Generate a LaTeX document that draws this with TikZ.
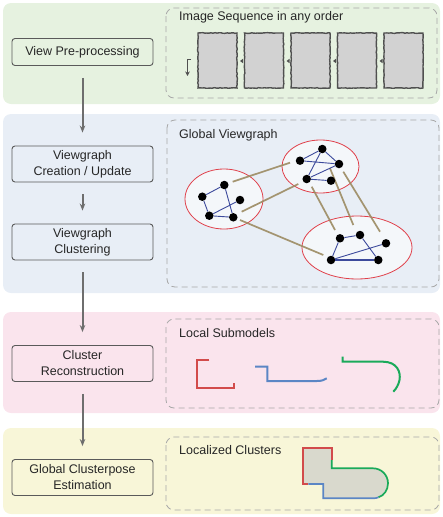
\documentclass[tikz,border=0pt]{standalone}
\usepackage{fontspec}
\setmainfont{Liberation Sans}
\usetikzlibrary{arrows.meta,decorations.pathmorphing}

\definecolor{greenbg}{HTML}{E6F2E0}
\definecolor{bluebg}{HTML}{E8EEF6}
\definecolor{pinkbg}{HTML}{FAE4ED}
\definecolor{yellowbg}{HTML}{F8F6D8}
\definecolor{boxline}{HTML}{5A5A5A}
\definecolor{flowgray}{HTML}{6E6E6E}
\definecolor{dashgray}{HTML}{A8A8A8}
\definecolor{shotfill}{HTML}{D2D2D2}
\definecolor{shotline}{HTML}{505050}
\definecolor{clusred}{HTML}{E0404A}
\definecolor{matchtan}{HTML}{9C8B62}
\definecolor{linkblue}{HTML}{3C4A9C}
\definecolor{partred}{HTML}{D24B4B}
\definecolor{partblue}{HTML}{5B86C5}
\definecolor{partgreen}{HTML}{1AAA5A}
\definecolor{mergefill}{HTML}{D9D9CD}

\begin{document}
\begin{tikzpicture}[x=1pt,y=-1pt,
	stage/.style={draw=boxline,rounded corners=3pt,line width=0.9pt,minimum width=141pt,minimum height=36pt,align=center,text=black!85,font=\fontsize{12.5}{16}\selectfont},
	title/.style={anchor=west,inner sep=0pt,text=black!85,font=\fontsize{12.5}{15}\selectfont},
	flow/.style={draw=flowgray,line width=2pt,-{Stealth[length=7pt,width=5.5pt]},shorten <=12pt,shorten >=13pt},
	dashbox/.style={draw=dashgray,dash pattern=on 6pt off 4pt,rounded corners=8pt,line width=0.8pt},
	shot/.style={fill=shotfill,draw=shotline,line width=1.4pt,decorate,decoration={random steps,segment length=2pt,amplitude=0.35pt}},
	view/.style={circle,fill=black,inner sep=0pt,minimum size=8.5pt},
	clus/.style={draw=clusred,fill=white,fill opacity=0.55,line width=0.8pt},
	match/.style={draw=matchtan,line width=1.7pt,opacity=0.9},
	link/.style={draw=linkblue,line width=0.9pt},
	part/.style={line width=2pt,line join=miter}]
	\useasboundingbox (0,0) rectangle (443,517);

	% stage backgrounds
	\fill[greenbg,rounded corners=8pt] (3,3) rectangle (440,104);
	\fill[bluebg,rounded corners=8pt] (3,114) rectangle (440,293);
	\fill[pinkbg,rounded corners=8pt] (3,312) rectangle (440,413);
	\fill[yellowbg,rounded corners=8pt] (3,428) rectangle (440,514);

	% pipeline
	\node[stage,fill=greenbg,minimum height=27pt] (pre) at (82.5,52) {View Pre-processing};
	\node[stage,fill=bluebg] (create) at (82.5,164) {Viewgraph\\Creation / Update};
	\node[stage,fill=bluebg] (clustering) at (82.5,242) {Viewgraph\\Clustering};
	\node[stage,fill=pinkbg] (recon) at (82.5,363.5) {Cluster\\Reconstruction};
	\node[stage,fill=yellowbg] (pose) at (82.5,477.5) {Global Clusterpose\\Estimation};
	\draw[flow] (pre) -- (create);
	\draw[flow] (create) -- (clustering);
	\draw[flow] (clustering) -- (recon);
	\draw[flow] (recon) -- (pose);

	% image sequence
	\draw[dashbox] (166,8) rectangle (437,98);
	\node[title] (seqtitle) at (179,17) {Image Sequence in any order};
	\foreach \i in {0,...,4}
		\draw[shot] ({198+46.5*\i},33) rectangle ++(39,55);
	\foreach \i in {0,...,3}
		\fill[shotline] ({240+46.5*\i},61) -- ++(3,-2.2) -- ++(0,4.4) -- cycle;
	\draw[shotline,line width=1.5pt,-{Stealth[length=4.5pt,width=4.5pt]}] (191,59.5) -- (187.5,59.5) -- (187.5,76);

	% viewgraph
	\draw[dashbox] (167,120) rectangle (439,287);
	\node[title] (graphtitle) at (179,135) {Global Viewgraph};
	\draw[clus] (224,199) ellipse [x radius=39pt,y radius=30pt];
	\draw[clus] (320.5,166.5) ellipse [x radius=38.5pt,y radius=26.5pt];
	\draw[clus] (357,247.5) ellipse [x radius=55pt,y radius=31.5pt];
	\draw[match] (232.7,181.7) -- (290,162.7);
	\draw[match] (241.7,211.7) -- (298.3,184);
	\draw[match] (240,220) -- (323.3,255);
	\draw[match] (311.7,186.7) -- (335,230);
	\draw[match] (330,168.3) -- (353.3,225);
	\draw[match] (343.3,171.7) -- (380,231.7);
	\node[view] (l1) at (224.3,185) {};
	\node[view] (l2) at (202.3,196.7) {};
	\node[view] (l3) at (240,200) {};
	\node[view] (l4) at (209.3,215.7) {};
	\node[view] (l5) at (233.3,217.3) {};
	\node[view] (t1) at (322.3,149) {};
	\node[view] (t2) at (300,160.7) {};
	\node[view] (t3) at (339,164) {};
	\node[view] (t4) at (306.7,179) {};
	\node[view] (t5) at (331,180.7) {};
	\node[view] (b1) at (340,238.3) {};
	\node[view] (b2) at (360,235) {};
	\node[view] (b3) at (386,243.3) {};
	\node[view] (b4) at (331,260) {};
	\node[view] (b5) at (378.3,260) {};
	\draw[link] (l2) -- (l1) (l2) -- (l4) (l1) -- (l5) (l4) -- (l5) (l4) -- (l3);
	\draw[link] (t2) -- (t1) (t1) -- (t3) (t2) -- (t3) (t1) -- (t4) (t3) -- (t4) (t4) -- (t5);
	\draw[link] (b1) -- (b2) (b1) -- (b4) (b4) -- (b3) (b2) -- (b5);
	\draw[link,line width=1.5pt] (b4) -- (b5);

	% local submodels
	\draw[dashbox] (166,319) rectangle (439,408);
	\node[title] (subtitle) at (179,333) {Local Submodels};
	\draw[part,partred] (209.3,360) -- (196.7,360) -- (196.7,388.3) -- (234,388.3) -- (234,383.3);
	\draw[part,partblue] (255,366.7) -- (267.3,366.7) -- (267.3,381) -- (316.7,381) .. controls (322,381) and (324,380) .. (326.7,378.3);
	\draw[part,partgreen] (342.7,356.7) -- (342.7,361.7) -- (383,361.7) .. controls (397,361.7) and (401,372) .. (399.5,380) .. controls (398.5,385) and (396,389) .. (393.3,391.7);

	% localized clusters
	\draw[dashbox] (166,437) rectangle (439,510);
	\node[title] (loctitle) at (179,450) {Localized Clusters};
	\fill[mergefill] (303.3,448.3) -- (331.7,448.3) -- (331.7,468.3) -- (373,468.3) .. controls (381.3,468.3) and (388,475) .. (388,483.3) .. controls (388,491.6) and (381.3,498.3) .. (373,498.3) -- (323.3,498.3) -- (323.3,484) -- (303.3,484) -- cycle;
	\draw[part,partred,line width=1.7pt] (308.3,484) -- (303.3,484) -- (303.3,448.3) -- (331.7,448.3) -- (331.7,460);
	\draw[part,partgreen,line width=1.7pt] (331.7,460) -- (331.7,468.3) -- (373,468.3) .. controls (381.3,468.3) and (388,475) .. (388,483.3) .. controls (388,490) and (384,495.5) .. (378.5,497.3);
	\draw[part,partblue,line width=1.7pt] (308.3,484) -- (323.3,484) -- (323.3,498.3) -- (373,498.3) .. controls (375,498.3) and (377,498) .. (378.5,497.3);
\end{tikzpicture}
\end{document}
